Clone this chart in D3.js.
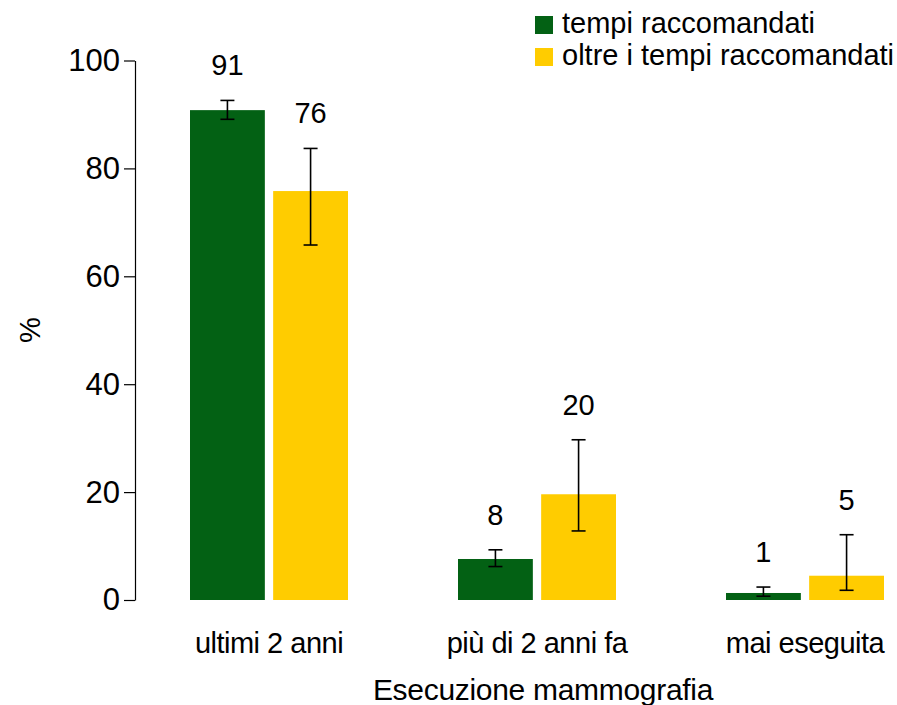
<!DOCTYPE html>
<html><head><meta charset="utf-8">
<script src="https://cdn.jsdelivr.net/npm/d3@7"></script>
<style>
body{margin:0;background:#fff;}
text{font-family:"Liberation Sans",Arial,sans-serif;fill:#000;}
</style></head>
<body><svg id="c" width="897" height="705"></svg>
<script>
const categories = ["ultimi 2 anni", "più di 2 anni fa", "mai eseguita"];
const seriesNames = ["tempi raccomandati", "oltre i tempi raccomandati"];
const seriesColors = ["#036114", "#ffcc00"];
const valuesRecommended = [90.8, 7.6, 1.3];
const valuesBeyond = [75.8, 19.6, 4.5];
const lowRecommended = [89.1, 6.2, 0.7];
const highRecommended = [92.6, 9.3, 2.4];
const lowBeyond = [65.8, 12.8, 1.8];
const highBeyond = [83.7, 29.7, 12.1];
const labelsRecommended = ["91", "8", "1"];
const labelsBeyond = ["76", "20", "5"];
const yTicks = [0, 20, 40, 60, 80, 100];

const svg = d3.select("#c");
const FS = 29;
const y = d3.scaleLinear().domain([0, 100]).range([600, 60.5]);
const x0 = d3.scaleBand().domain(categories).range([135, 939]).paddingInner(0).paddingOuter(0);
const x1 = d3.scaleBand().domain(seriesNames).range([0, 158]).paddingInner(0.1);

const data = [];
categories.forEach((c, i) => {
  data.push({cat: c, s: seriesNames[0], v: valuesRecommended[i], lo: lowRecommended[i], hi: highRecommended[i], lab: labelsRecommended[i], col: seriesColors[0]});
  data.push({cat: c, s: seriesNames[1], v: valuesBeyond[i], lo: lowBeyond[i], hi: highBeyond[i], lab: labelsBeyond[i], col: seriesColors[1]});
});
const bx = d => x0(d.cat) + x0.bandwidth() / 2 - 79 + x1(d.s);
const cx = d => bx(d) + x1.bandwidth() / 2;

svg.selectAll("rect.bar").data(data).enter().append("rect")
  .attr("class", "bar")
  .attr("x", bx).attr("width", x1.bandwidth())
  .attr("y", d => y(d.v)).attr("height", d => y(0) - y(d.v))
  .attr("fill", d => d.col);

const eb = svg.append("g").attr("stroke", "#000").attr("stroke-width", 1.6);
data.forEach(d => {
  const c = cx(d);
  eb.append("line").attr("x1", c).attr("x2", c).attr("y1", y(d.hi)).attr("y2", y(d.lo));
  eb.append("line").attr("x1", c - 7).attr("x2", c + 7).attr("y1", y(d.hi)).attr("y2", y(d.hi));
  eb.append("line").attr("x1", c - 7).attr("x2", c + 7).attr("y1", y(d.lo)).attr("y2", y(d.lo));
});

svg.selectAll("text.val").data(data).enter().append("text")
  .attr("class", "val")
  .attr("x", cx).attr("y", d => y(d.hi) - 25)
  .attr("text-anchor", "middle").style("font-size", FS + "px")
  .text(d => d.lab);

// y axis
const yAxis = svg.append("g").attr("transform", "translate(135,0)")
  .call(d3.axisLeft(y).tickValues(yTicks).tickSize(11).tickPadding(4).tickSizeOuter(0));
yAxis.select(".domain").attr("stroke", "#000").attr("stroke-width", 1.2);
yAxis.selectAll(".tick line").attr("stroke", "#000").attr("stroke-width", 1.2);
yAxis.selectAll(".tick text").style("font-size", "31px").attr("font-family", "Liberation Sans, Arial, sans-serif").attr("fill", "#000");

// x category labels
svg.selectAll("text.cat").data(categories).enter().append("text")
  .attr("class", "cat")
  .attr("x", d => x0(d) + x0.bandwidth() / 2).attr("y", 653)
  .attr("text-anchor", "middle").style("font-size", FS + "px").style("letter-spacing", "-0.5px")
  .text(d => d);

svg.append("text").attr("x", 543).attr("y", 700).attr("text-anchor", "middle")
  .style("font-size", "30px").style("letter-spacing", "-0.3px").text("Esecuzione mammografia");

svg.append("text").attr("transform", "translate(40,330) rotate(-90)")
  .attr("text-anchor", "middle").style("font-size", FS + "px").text("%");

// legend
const lg = svg.append("g");
seriesNames.forEach((s, i) => {
  lg.append("rect").attr("x", 535).attr("y", 16 + i * 32).attr("width", 18).attr("height", 18).attr("fill", seriesColors[i]);
  lg.append("text").attr("x", 562).attr("y", 33 + i * 32).style("font-size", FS + "px").text(s);
});
</script></body></html>
